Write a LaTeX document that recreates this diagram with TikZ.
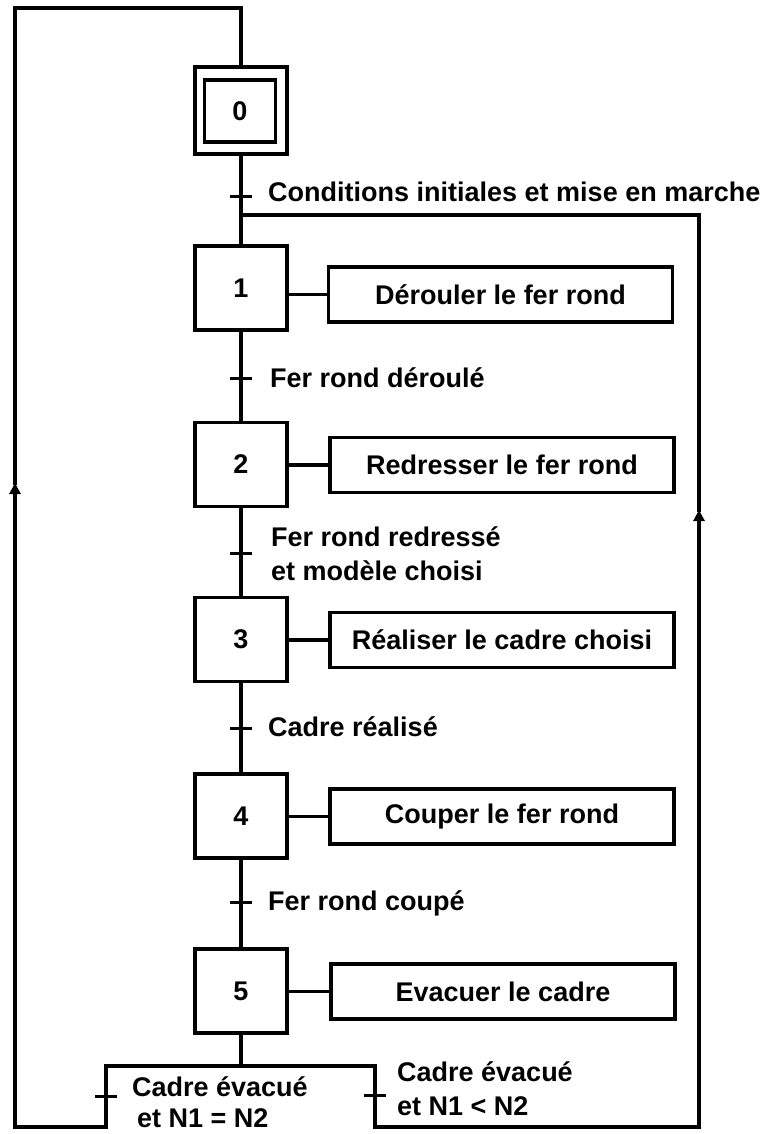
\documentclass[tikz,border=0pt]{standalone}
\usepackage{fontspec}
\setmainfont{Liberation Sans}
\usetikzlibrary{arrows.meta}
\begin{document}
\begin{tikzpicture}[x=1pt,y=-1pt,
  every node/.style={font=\fontsize{27}{34}\selectfont\bfseries, inner sep=0pt},
  ln/.style={line width=3.2pt, line cap=rect},
  stepbox/.style={draw, line width=3.2pt, minimum width=92pt, minimum height=84pt},
  actbox/.style={draw, line width=3.2pt, minimum width=344pt, minimum height=55pt},
  tick/.style={line width=3pt},
  lab/.style={anchor=west, align=left},
  up/.style={-{Triangle[length=11pt,width=11pt]}}
]
\useasboundingbox (0,0) rectangle (777,1134);

% steps
\node[draw, line width=3.2pt, minimum width=92pt, minimum height=87pt] (s0) at (241,110.5) {};
\node[draw, line width=3.2pt, minimum width=71pt, minimum height=62pt] (s0i) at (240,111) {0};
\node[stepbox] (s1) at (241,288) {1};
\node[stepbox] (s2) at (241,464.5) {2};
\node[stepbox] (s3) at (241,639.5) {3};
\node[stepbox] (s4) at (241,816) {4};
\node[stepbox] (s5) at (241,991) {5};

% actions
\node[actbox] (a1) at (500.5,294.5) {Dérouler le fer rond};
\node[actbox] (a2) at (502,465) {Redresser le fer rond};
\node[actbox] (a3) at (502,640) {Réaliser le cadre choisi};
\node[actbox] (a4) at (502,816.5) {Couper le fer rond};
\node[actbox] (a5) at (503,991.5) {Evacuer le cadre};

\foreach \i in {1,...,5} {\draw[ln] (s\i.east |- a\i.west) -- (a\i.west);}

% main vertical chain
\draw[ln] (s0.south) -- (s1.north);
\draw[ln] (s1.south) -- (s2.north);
\draw[ln] (s2.south) -- (s3.north);
\draw[ln] (s3.south) -- (s4.north);
\draw[ln] (s4.south) -- (s5.north);

% transitions
\coordinate (t0) at (241,196);
\coordinate (t1) at (241,378);
\coordinate (t2) at (241,553);
\coordinate (t3) at (241,728);
\coordinate (t4) at (241,902);
\foreach \t in {t0,t1,t2,t3,t4} {\draw[tick] ([xshift=-11pt]\t) -- ([xshift=11pt]\t);}

\node[lab] (c0) at (268,192) {Conditions initiales et mise en marche};
\node[lab] (c1) at (270,378) {Fer rond déroulé};
\node[lab] (c2) at (271,554) {Fer rond redressé\\et modèle choisi};
\node[lab] (c3) at (268,727) {Cadre réalisé};
\node[lab] (c4) at (268,903) {Fer rond coupé};

% divergence OR at bottom
\coordinate (d0) at (241,1066);
\coordinate (dl) at (106,1066);
\coordinate (dr) at (375,1066);
\coordinate (bl) at (106,1127);
\coordinate (br) at (375,1127);
\draw[ln] (s5.south) -- (d0);
\draw[ln] (dl) -- (dr);
\draw[ln] (dl) -- (bl);
\draw[ln] (dr) -- (br);
\coordinate (t5) at (106,1096);
\coordinate (t6) at (375,1095);
\draw[tick] ([xshift=-11pt]t5) -- ([xshift=11pt]t5);
\draw[tick] ([xshift=-11pt]t6) -- ([xshift=11pt]t6);
\node[lab] (c5) at (132,1102) {Cadre évacué\\[-3pt]\hspace*{5pt}et N1 = N2};
\node[lab] (c6) at (397,1088.5) {Cadre évacué\\et N1 < N2};

% left loop back to step 0
\coordinate (la) at (15,483);
\coordinate (lt) at (15,8);
\coordinate (lb) at (15,1127);
\draw[ln] (bl) -- (lb);
\draw[ln, up] (lb) -- (la);
\draw[ln] (la) -- (lt) -- (241,8) -- (s0.north);

% right loop back to step 1
\coordinate (j0) at (241,215);
\coordinate (ra) at (699,510);
\coordinate (rb) at (699,1127);
\coordinate (rt) at (699,215);
\draw[ln] (br) -- (rb);
\draw[ln, up] (rb) -- (ra);
\draw[ln] (ra) -- (rt) -- (j0);
\end{tikzpicture}
\end{document}
